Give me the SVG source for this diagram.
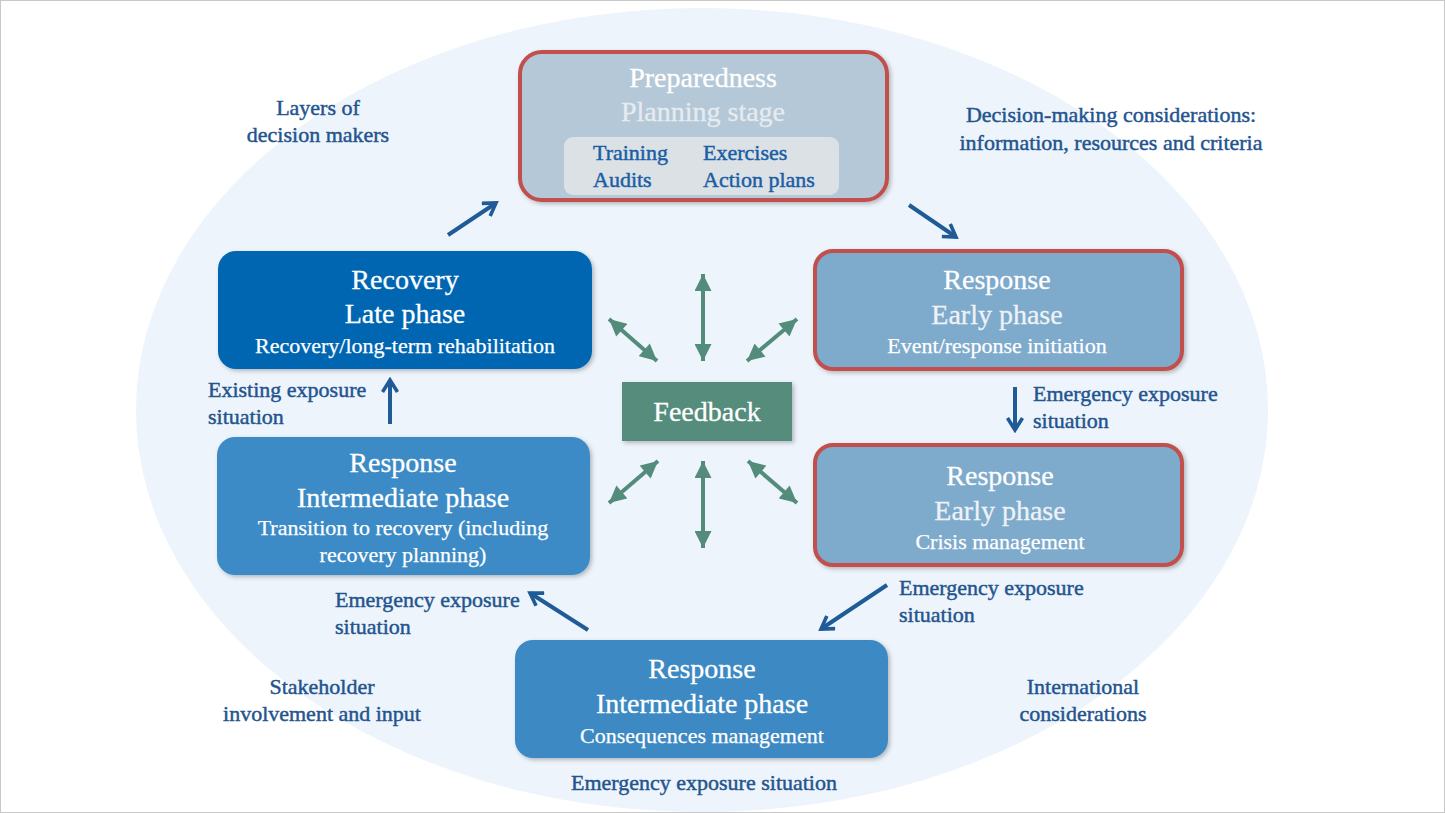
<svg xmlns="http://www.w3.org/2000/svg" width="1445" height="813" viewBox="0 0 1445 813">
<defs>
<filter id="sh" x="-10%" y="-10%" width="120%" height="125%">
<feDropShadow dx="2" dy="2" stdDeviation="2" flood-color="#000" flood-opacity="0.25"/>
</filter>
<marker id="chev" viewBox="0 0 12 12" refX="10" refY="6" markerWidth="18" markerHeight="18" markerUnits="userSpaceOnUse" orient="auto">
<path d="M2,1 L10,6 L2,11" fill="none" stroke="#1f5b97" stroke-width="2.4" stroke-linejoin="miter"/>
</marker>
<marker id="tri" viewBox="0 0 10 10" refX="10" refY="5" markerWidth="18" markerHeight="17" markerUnits="userSpaceOnUse" orient="auto-start-reverse">
<path d="M0,0 L10,5 L0,10 z" fill="#548c7b"/>
</marker>
</defs>
<style>
text{font-family:"Liberation Serif","Times New Roman",serif}
.h{font-size:28px;fill:#ffffff;stroke:#ffffff;stroke-width:0.3;text-anchor:middle}
.s{font-size:22px;fill:#ffffff;stroke:#ffffff;stroke-width:0.25;text-anchor:middle}
.lab{font-size:22px;fill:#24548e;stroke:#24548e;stroke-width:0.45}
.labc{font-size:22px;fill:#24548e;stroke:#24548e;stroke-width:0.45;text-anchor:middle}
.in{font-size:22px;fill:#1a5ea5;stroke:#1a5ea5;stroke-width:0.45}
.box{filter:url(#sh)}
.red{stroke:#c0504d;stroke-width:4}
.cyc{stroke:#1f5b97;stroke-width:4;fill:none;marker-end:url(#chev)}
.fb{stroke:#548c7b;stroke-width:4;fill:none;marker-start:url(#tri);marker-end:url(#tri)}
</style>
<rect x="0" y="0" width="1445" height="813" fill="#ffffff"/>
<rect x="0.5" y="0.5" width="1444" height="812" fill="none" stroke="#c8c8c8"/>
<ellipse cx="702" cy="410" rx="566" ry="402" fill="#edf4fb"/>

<g id="labels">
<text class="labc" x="318" y="115">Layers of</text>
<text class="labc" x="318" y="142">decision makers</text>
<text class="labc" x="1111" y="122">Decision-making considerations:</text>
<text class="labc" x="1111" y="150">information, resources and criteria</text>
<text class="lab" x="1033" y="401">Emergency exposure</text>
<text class="lab" x="1033" y="428">situation</text>
<text class="lab" x="208" y="397">Existing exposure</text>
<text class="lab" x="208" y="424">situation</text>
<text class="lab" x="899" y="595">Emergency exposure</text>
<text class="lab" x="899" y="622">situation</text>
<text class="lab" x="335" y="607">Emergency exposure</text>
<text class="lab" x="335" y="634">situation</text>
<text class="labc" x="322" y="694">Stakeholder</text>
<text class="labc" x="322" y="721">involvement and input</text>
<text class="labc" x="1083" y="694">International</text>
<text class="labc" x="1083" y="721">considerations</text>
<text class="labc" x="704" y="790">Emergency exposure situation</text>
</g>

<g id="connectors">
<line class="cyc" x1="448" y1="235" x2="496" y2="203"/>
<line class="cyc" x1="909" y1="205" x2="956" y2="237"/>
<line class="cyc" x1="1015" y1="387" x2="1015" y2="430"/>
<line class="cyc" x1="887" y1="585" x2="821" y2="629"/>
<line class="cyc" x1="588" y1="630" x2="530" y2="593"/>
<line class="cyc" x1="390" y1="424" x2="390" y2="380"/>
<line class="fb" x1="703" y1="274" x2="703" y2="361"/>
<line class="fb" x1="609" y1="319" x2="657" y2="361"/>
<line class="fb" x1="797" y1="319" x2="747" y2="361"/>
<line class="fb" x1="658" y1="461" x2="609" y2="503"/>
<line class="fb" x1="703" y1="461" x2="703" y2="548"/>
<line class="fb" x1="748" y1="461" x2="797" y2="503"/>
</g>

<g id="preparedness">
<rect class="box red" x="520" y="52" width="367" height="148" rx="22" fill="#b4c8d8"/>
<text class="h" x="703" y="87">Preparedness</text>
<text class="h" x="703" y="121" style="fill:#e6ebef;stroke:#e6ebef">Planning stage</text>
<rect x="564" y="137" width="275" height="58" rx="9" fill="#dce1e5"/>
<text class="in" x="593" y="160">Training</text>
<text class="in" x="703" y="160">Exercises</text>
<text class="in" x="593" y="187">Audits</text>
<text class="in" x="703" y="187">Action plans</text>
</g>

<g id="recovery">
<rect class="box" x="218" y="251" width="374" height="118" rx="18" fill="#0066b2"/>
<text class="h" x="405" y="289">Recovery</text>
<text class="h" x="405" y="323">Late phase</text>
<text class="s" x="405" y="353">Recovery/long-term rehabilitation</text>
</g>

<g id="response-early-initiation">
<rect class="box red" x="815" y="251" width="367" height="118" rx="18" fill="#7eaacc"/>
<text class="h" x="997" y="289">Response</text>
<text class="h" x="997" y="324" style="fill:#eef2f6;stroke:#eef2f6">Early phase</text>
<text class="s" x="997" y="353">Event/response initiation</text>
</g>

<g id="response-early-crisis">
<rect class="box red" x="815" y="445" width="367" height="120" rx="18" fill="#7eaacc"/>
<text class="h" x="1000" y="485">Response</text>
<text class="h" x="1000" y="520" style="fill:#eef2f6;stroke:#eef2f6">Early phase</text>
<text class="s" x="1000" y="549">Crisis management</text>
</g>

<g id="response-intermediate-transition">
<rect class="box" x="217" y="437" width="373" height="138" rx="18" fill="#3d8bc6"/>
<text class="h" x="403" y="472">Response</text>
<text class="h" x="403" y="507">Intermediate phase</text>
<text class="s" x="403" y="535">Transition to recovery (including</text>
<text class="s" x="403" y="562">recovery planning)</text>
</g>

<g id="response-intermediate-consequences">
<rect class="box" x="515" y="640" width="373" height="118" rx="18" fill="#3e89c3"/>
<text class="h" x="702" y="678">Response</text>
<text class="h" x="702" y="713">Intermediate phase</text>
<text class="s" x="702" y="743">Consequences management</text>
</g>

<g id="feedback">
<rect class="box" x="622" y="382" width="170" height="59" fill="#548c7b"/>
<text class="h" x="707" y="421">Feedback</text>
</g>
</svg>
